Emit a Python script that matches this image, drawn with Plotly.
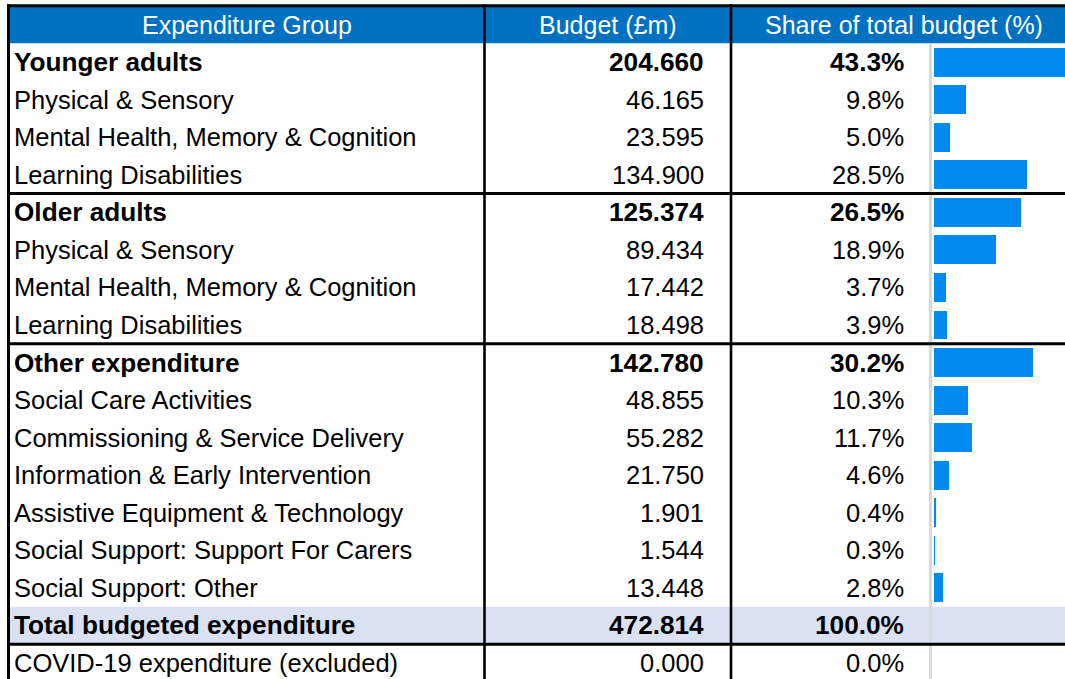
import plotly.graph_objects as go

# ---------------- data ----------------
headers = ["Expenditure Group", "Budget (£m)", "Share of total budget (%)"]
labels = [
    "Younger adults", "Physical & Sensory", "Mental Health, Memory & Cognition", "Learning Disabilities",
    "Older adults", "Physical & Sensory", "Mental Health, Memory & Cognition", "Learning Disabilities",
    "Other expenditure", "Social Care Activities", "Commissioning & Service Delivery",
    "Information & Early Intervention", "Assistive Equipment & Technology",
    "Social Support: Support For Carers", "Social Support: Other",
    "Total budgeted expenditure", "COVID-19 expenditure (excluded)",
]
budgets = [204.660, 46.165, 23.595, 134.900,
           125.374, 89.434, 17.442, 18.498,
           142.780, 48.855, 55.282, 21.750, 1.901, 1.544, 13.448,
           472.814, 0.000]
shares = [43.3, 9.8, 5.0, 28.5,
          26.5, 18.9, 3.7, 3.9,
          30.2, 10.3, 11.7, 4.6, 0.4, 0.3, 2.8,
          100.0, 0.0]
row_kind = ["group", "item", "item", "item",
            "group", "item", "item", "item",
            "group", "item", "item", "item", "item", "item", "item",
            "total", "note"]

# ---------------- layout helpers ----------------
W, H = 1065, 679
ROW0 = 62.08      # pixel centre of first data row
ROWH = 37.56      # pixel row height
y_top = (0 - ROW0) / ROWH
y_bot = (H - ROW0) / ROWH
FONT = "Liberation Sans, Arial, sans-serif"
FS = 25.5
FS_B = 26.2
BAR_X0 = 934
PX_PER_PCT = 3.28

rows = list(range(len(labels)))
bar_rows = [r for r, k in zip(rows, row_kind) if k in ("group", "item")]
bar_vals = [shares[r] for r in bar_rows]

fig = go.Figure()
fig.add_trace(go.Bar(
    x=bar_vals, y=bar_rows, orientation="h", xaxis="x2", yaxis="y",
    width=0.77, marker=dict(color="#008AEF", line=dict(width=0)),
    hoverinfo="skip", showlegend=False,
))

ann = []
# header
for txt, cx in zip(headers, [247, 608, 904]):
    ann.append(dict(x=cx, y=-1, xref="x", yref="y", text=txt, showarrow=False,
                    xanchor="center", yanchor="middle",
                    font=dict(family=FONT, size=25, color="white")))
for r in rows:
    bold = row_kind[r] in ("group", "total")
    def t(s):
        return f"<b>{s}</b>" if bold else s
    f = dict(family=FONT, size=FS_B if bold else FS, color="black")
    ann.append(dict(x=12, y=r, xref="x", yref="y", text=t(labels[r]), showarrow=False,
                    xanchor="left", yanchor="middle", font=f))
    ann.append(dict(x=706, y=r, xref="x", yref="y", text=t(f"{budgets[r]:.3f}"), showarrow=False,
                    xanchor="right", yanchor="middle", font=f))
    ann.append(dict(x=906, y=r, xref="x", yref="y", text=t(f"{shares[r]:.1f}%"), showarrow=False,
                    xanchor="right", yanchor="middle", font=f))

shapes = []
# header fill
shapes.append(dict(type="rect", xref="x", yref="y", x0=9, x1=W + 20, y0=-1.5, y1=-0.5,
                   fillcolor="#0070C0", line=dict(width=0), layer="below"))
# total row fill
tot = row_kind.index("total")
shapes.append(dict(type="rect", xref="x", yref="y", x0=9, x1=W + 20, y0=tot - 0.5, y1=tot + 0.5,
                   fillcolor="#D9E1F2", line=dict(width=0), layer="below"))
# grey data-bar axis
shapes.append(dict(type="line", xref="x", yref="y", x0=930.5, x1=930.5, y0=-0.5, y1=y_bot + 1,
                   line=dict(color="#D9D9D9", width=3), layer="above"))
# black horizontal borders
for yb in [-1.5, 3.5, 7.5, tot + 0.5]:
    shapes.append(dict(type="line", xref="x", yref="y", x0=7, x1=W + 20, y0=yb, y1=yb,
                       line=dict(color="black", width=3), layer="above"))
# black vertical borders
for xb in [8.5, 484.5, 731]:
    shapes.append(dict(type="line", xref="x", yref="y", x0=xb, x1=xb, y0=-1.5 - 0.04, y1=y_bot + 1,
                       line=dict(color="black", width=3 if xb < 10 else 2.6), layer="above"))

fig.update_layout(
    width=W, height=H, margin=dict(l=0, r=0, t=0, b=0),
    paper_bgcolor="white", plot_bgcolor="rgba(0,0,0,0)",
    xaxis=dict(range=[0, W], domain=[0, 1], visible=False, fixedrange=True),
    xaxis2=dict(range=[0, (W - BAR_X0) / PX_PER_PCT], domain=[BAR_X0 / W, 1],
                anchor="y", visible=False, fixedrange=True),
    yaxis=dict(range=[y_bot, y_top], domain=[0, 1], visible=False, fixedrange=True),
    annotations=ann, shapes=shapes, bargap=0, showlegend=False,
)

fig.write_html("out.html", config={"displayModeBar": False},
               post_script="document.body.style.margin='0';document.body.style.overflow='hidden';")
